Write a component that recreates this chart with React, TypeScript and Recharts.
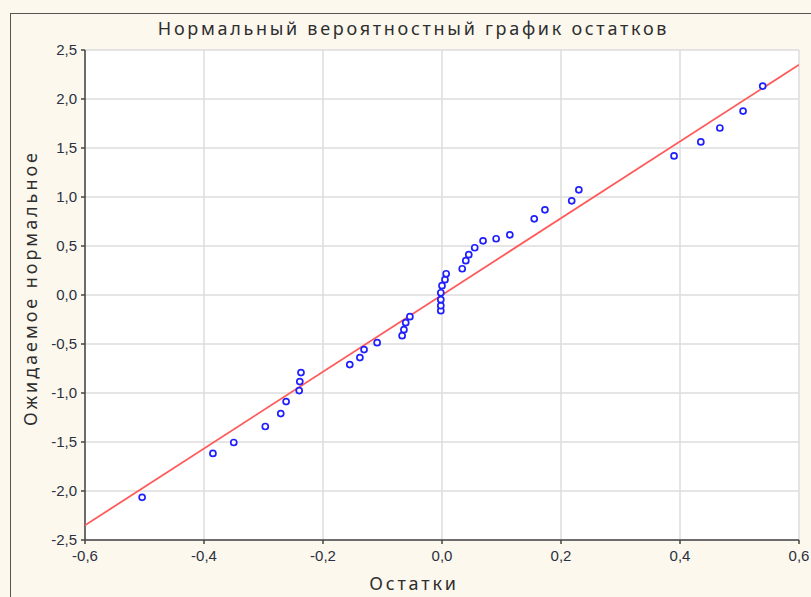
import React from 'react';
import { ScatterChart, Scatter, XAxis, YAxis, CartesianGrid } from 'recharts';

// residuals vs expected normal values
const residuals = [
    -0.504, -0.385, -0.350, -0.297, -0.271, -0.262, -0.240, -0.239, -0.237, -0.155,
    -0.138, -0.131, -0.109, -0.067, -0.064, -0.061, -0.054, -0.002, -0.002, -0.002,
    -0.002, 0.000, 0.005, 0.007, 0.034, 0.040, 0.045, 0.055, 0.069, 0.091,
    0.114, 0.155, 0.173, 0.218, 0.230, 0.390, 0.435, 0.467, 0.506, 0.539,
];
const expectedNormal = [
    -2.065, -1.617, -1.505, -1.342, -1.210, -1.087, -0.975, -0.883, -0.792, -0.710,
    -0.639, -0.557, -0.486, -0.415, -0.354, -0.282, -0.221, -0.160, -0.109, -0.048,
    0.023, 0.095, 0.156, 0.217, 0.268, 0.350, 0.411, 0.482, 0.553, 0.574,
    0.614, 0.777, 0.869, 0.961, 1.073, 1.419, 1.562, 1.704, 1.877, 2.132,
];
// fitted reference line endpoints
const fitX = [-0.6, 0.6];
const fitY = [-2.35, 2.35];

const xTicks = [-0.6, -0.4, -0.2, 0, 0.2, 0.4, 0.6];
const yTicks = [-2.5, -2, -1.5, -1, -0.5, 0, 0.5, 1, 1.5, 2, 2.5];

const points = residuals.map((x, i) => ({ x, y: expectedNormal[i] }));
const fitLine = fitX.map((x, i) => ({ x, y: fitY[i] }));

const fmt = (v: number) => v.toFixed(1).replace('.', ',');

const tickStyle = { fontSize: 15, fill: '#2a3140', fontFamily: 'Liberation Sans, Arial, sans-serif' };
const labelFont = '"Noto Sans", "Open Sans", sans-serif';

const Ring = (props: any) => (
    <circle cx={props.cx} cy={props.cy} r={3} fill="#fff" stroke="#2020ff" strokeWidth={1.7} />
);

const App: React.FC = () => {
    return (
        <div style={{ position: 'absolute', left: 0, top: 0, width: 811, height: 597, background: '#fcf8ee', overflow: 'hidden' }}>
            {/* outer frame */}
            <div style={{ position: 'absolute', left: 10, top: 13, width: 820, height: 620, borderLeft: '1.5px solid #555', borderTop: '1.5px solid #555' }} />
            <div style={{ position: 'absolute', left: 0, top: 16, width: 811, textAlign: 'center', fontFamily: labelFont, fontSize: 18, letterSpacing: 2.7, color: '#2e2e2e', paddingLeft: 8 }}>
                Нормальный вероятностный график остатков
            </div>
            <div style={{ position: 'absolute', left: 0, top: 571, width: 828, textAlign: 'center', fontFamily: labelFont, fontSize: 18, letterSpacing: 2.8, color: '#2e2e2e' }}>
                Остатки
            </div>
            <div style={{ position: 'absolute', left: 30, top: 288, transform: 'translate(-50%, -50%) rotate(-90deg)', whiteSpace: 'nowrap', fontFamily: labelFont, fontSize: 18, letterSpacing: 2.95, color: '#2e2e2e' }}>
                Ожидаемое нормальное
            </div>
            <ScatterChart width={811} height={597} margin={{ top: 50, right: 12, left: 0, bottom: 0 }} style={{ position: 'absolute', left: 0, top: 0 }}>
                <CartesianGrid stroke="#dddddd" strokeWidth={1.5} fill="#ffffff" />
                <XAxis
                    type="number"
                    dataKey="x"
                    domain={[-0.6, 0.6]}
                    ticks={xTicks}
                    tickFormatter={fmt}
                    allowDataOverflow
                    height={57}
                    stroke="#444"
                    strokeWidth={1.5}
                    tickSize={4}
                    tickMargin={6}
                    tick={tickStyle}
                />
                <XAxis
                    xAxisId="top"
                    orientation="top"
                    type="number"
                    dataKey="x"
                    domain={[-0.6, 0.6]}
                    ticks={xTicks}
                    height={0}
                    stroke="#444"
                    strokeWidth={1.5}
                    tickSize={-4}
                    tick={() => <g />}
                />
                <YAxis
                    type="number"
                    dataKey="y"
                    domain={[-2.5, 2.5]}
                    ticks={yTicks}
                    tickFormatter={fmt}
                    allowDataOverflow
                    width={85}
                    stroke="#444"
                    strokeWidth={1.5}
                    tickSize={4}
                    tickMargin={4}
                    tick={tickStyle}
                />
                <YAxis
                    yAxisId="right"
                    orientation="right"
                    type="number"
                    dataKey="y"
                    domain={[-2.5, 2.5]}
                    ticks={yTicks}
                    width={0}
                    stroke="#444"
                    strokeWidth={1.5}
                    tickSize={-4}
                    tick={() => <g />}
                />
                <Scatter
                    data={fitLine}
                    line={{ stroke: '#ff5a5a', strokeWidth: 1.8 }}
                    shape={() => <g />}
                    isAnimationActive={false}
                />
                <Scatter data={points} shape={Ring} isAnimationActive={false} />
            </ScatterChart>
        </div>
    );
};

export default App;
